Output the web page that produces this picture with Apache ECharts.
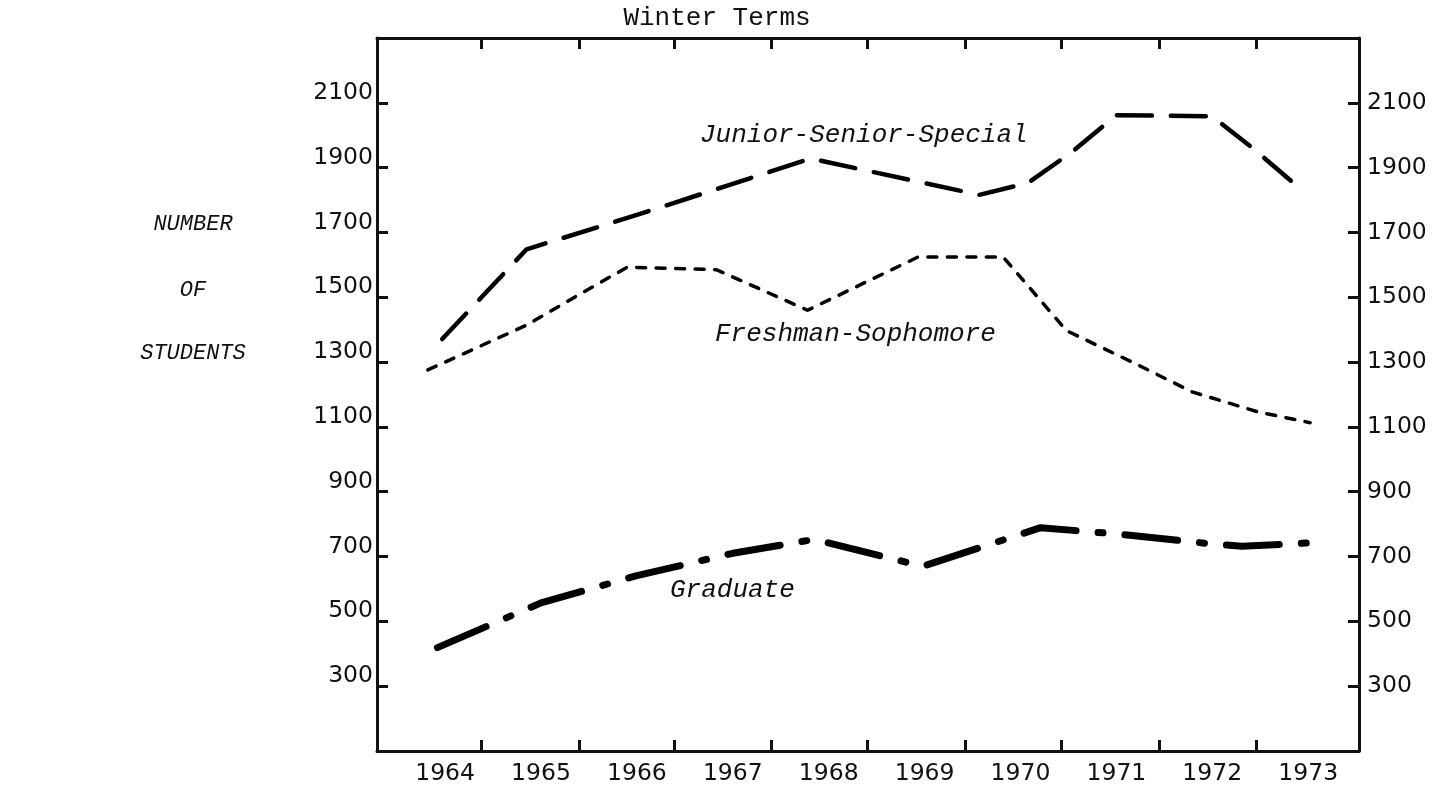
<!DOCTYPE html>
<html>
<head>
<meta charset="utf-8">
<script src="https://cdn.jsdelivr.net/npm/echarts@6/dist/echarts.min.js"></script>
<style>
html,body{margin:0;padding:0;background:#fff;}
#chart{width:1447px;height:789px;}
</style>
</head>
<body>
<div id="chart"></div>
<script>
// ---- data ----
const yearLabels = [1964, 1965, 1966, 1967, 1968, 1969, 1970, 1971, 1972, 1973];
const yearTicks = [1964.38, 1965.40, 1966.39, 1967.40, 1968.40, 1969.42, 1970.42, 1971.45, 1972.46];
const countTicks = [300, 500, 700, 900, 1100, 1300, 1500, 1700, 1900, 2100];

const juniorSeniorSpecial = [
  [1963.97, 1371], [1964.85, 1648], [1966.00, 1754], [1967.00, 1850], [1967.81, 1928],
  [1968.88, 1860], [1969.57, 1816], [1970.08, 1853], [1970.54, 1949], [1971.00, 2062],
  [1972.00, 2058], [1972.41, 1963], [1972.96, 1824]
];
const freshmanSophomore = [
  [1963.82, 1276], [1964.85, 1414], [1965.39, 1507], [1965.90, 1593], [1966.83, 1585],
  [1967.78, 1460], [1968.93, 1624], [1969.82, 1624], [1970.48, 1397], [1971.20, 1295],
  [1971.79, 1208], [1972.48, 1146], [1973.02, 1113]
];
const graduate = [
  [1963.92, 419], [1965.00, 557], [1966.00, 641], [1967.00, 710], [1967.85, 753],
  [1968.98, 670], [1970.21, 789], [1971.03, 769], [1971.96, 740], [1972.31, 732],
  [1973.09, 743]
];
const seriesNames = ['Junior-Senior-Special', 'Freshman-Sophomore', 'Graduate'];

// ---- chart ----
const chart = echarts.init(document.getElementById('chart'), null, {renderer: 'canvas'});
const ink = '#111';
const numFont = 'DejaVu Sans';
const typeFont = 'Liberation Mono';
const plain = v => String(Math.round(v));

const xBase = {
  type: 'value', min: 1963.29, max: 1973.53,
  splitLine: {show: false},
  axisLine: {show: true, onZero: false, lineStyle: {color: ink, width: 3}},
  axisTick: {show: true, inside: true, length: 11, customValues: yearTicks, lineStyle: {color: ink, width: 3}}
};
const yBase = {
  type: 'value', min: 100, max: 2300,
  splitLine: {show: false},
  axisLine: {show: true, onZero: false, lineStyle: {color: ink, width: 3}},
  axisTick: {show: true, inside: true, length: 11, customValues: countTicks, lineStyle: {color: ink, width: 3}}
};

chart.setOption({
  animation: false,
  backgroundColor: '#fff',
  grid: {left: 377, right: 88, top: 38, bottom: 38, containLabel: false},
  xAxis: [
    Object.assign({}, xBase, {
      position: 'bottom',
      axisLabel: {show: true, customValues: yearLabels, margin: 11, color: ink,
        fontFamily: numFont, fontSize: 23.5, formatter: plain}
    }),
    Object.assign({}, xBase, {position: 'top', axisLabel: {show: false}})
  ],
  yAxis: [
    Object.assign({}, yBase, {
      position: 'left',
      axisLabel: {show: true, customValues: countTicks, margin: 4, color: ink,
        fontFamily: numFont, fontSize: 23.5, verticalAlign: 'bottom', lineHeight: 20, formatter: plain}
    }),
    Object.assign({}, yBase, {
      position: 'right',
      axisLabel: {show: true, customValues: countTicks, margin: 8, color: ink,
        fontFamily: numFont, fontSize: 23.5, formatter: plain}
    })
  ],
  series: [
    {
      name: seriesNames[0], type: 'line', data: juniorSeniorSpecial,
      xAxisIndex: 0, yAxisIndex: 0, showSymbol: false, silent: true,
      lineStyle: {color: '#000', width: 4.5, type: [35, 19], cap: 'round', join: 'round'}
    },
    {
      name: seriesNames[1], type: 'line', data: freshmanSophomore,
      xAxisIndex: 0, yAxisIndex: 0, showSymbol: false, silent: true,
      lineStyle: {color: '#000', width: 3.5, type: [9, 10.5], cap: 'round', join: 'round'}
    },
    {
      name: seriesNames[2], type: 'line', data: graduate,
      xAxisIndex: 0, yAxisIndex: 0, showSymbol: false, silent: true,
      lineStyle: {color: '#000', width: 7, type: [53, 22, 5, 22], cap: 'round', join: 'round'}
    }
  ],
  graphic: [
    {type: 'text', x: 717, y: 18, style: {text: 'Winter Terms', fontFamily: typeFont, fontSize: 26,
      fill: ink, align: 'center', verticalAlign: 'middle'}},
    {type: 'text', x: 700, y: 135, style: {text: seriesNames[0], fontFamily: typeFont, fontStyle: 'italic',
      fontSize: 26, fill: ink, align: 'left', verticalAlign: 'middle'}},
    {type: 'text', x: 715, y: 334, style: {text: seriesNames[1], fontFamily: typeFont, fontStyle: 'italic',
      fontSize: 26, fill: ink, align: 'left', verticalAlign: 'middle'}},
    {type: 'text', x: 670, y: 590, style: {text: seriesNames[2], fontFamily: typeFont, fontStyle: 'italic',
      fontSize: 26, fill: ink, align: 'left', verticalAlign: 'middle'}},
    {type: 'text', x: 193, y: 224, style: {text: 'NUMBER', fontFamily: typeFont, fontStyle: 'italic',
      fontSize: 22, fill: ink, align: 'center', verticalAlign: 'middle'}},
    {type: 'text', x: 193, y: 290, style: {text: 'OF', fontFamily: typeFont, fontStyle: 'italic',
      fontSize: 22, fill: ink, align: 'center', verticalAlign: 'middle'}},
    {type: 'text', x: 193, y: 353, style: {text: 'STUDENTS', fontFamily: typeFont, fontStyle: 'italic',
      fontSize: 22, fill: ink, align: 'center', verticalAlign: 'middle'}}
  ]
});
</script>
</body>
</html>
